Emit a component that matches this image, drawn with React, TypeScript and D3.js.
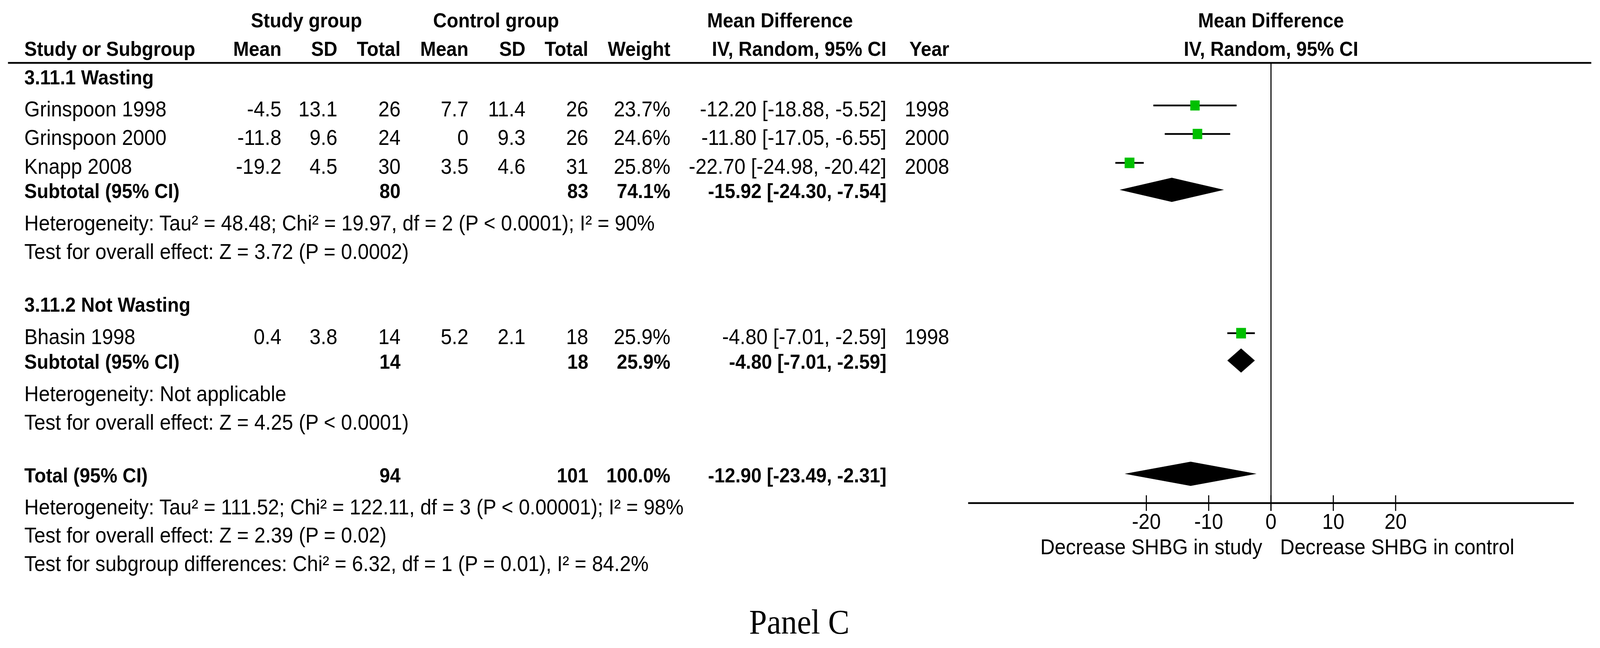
import * as d3 from "d3";

// ---- data ----
const studyNames = ["Grinspoon 1998", "Grinspoon 2000", "Knapp 2008", "Bhasin 1998"];
const studyGroup = [0, 0, 0, 1];
const expMean = [-4.5, -11.8, -19.2, 0.4];
const expSD = [13.1, 9.6, 4.5, 3.8];
const expN = [26, 24, 30, 14];
const ctlMean = [7.7, 0, 3.5, 5.2];
const ctlSD = [11.4, 9.3, 4.6, 2.1];
const ctlN = [26, 26, 31, 18];
const weights = [23.7, 24.6, 25.8, 25.9];
const md = [-12.2, -11.8, -22.7, -4.8];
const ciLow = [-18.88, -17.05, -24.98, -7.01];
const ciHigh = [-5.52, -6.55, -20.42, -2.59];
const years = [1998, 2000, 2008, 1998];

const subgroupNames = ["3.11.1 Wasting", "3.11.2 Not Wasting"];
const subExpN = [80, 14];
const subCtlN = [83, 18];
const subWeight = [74.1, 25.9];
const subMd = [-15.92, -4.8];
const subLow = [-24.3, -7.01];
const subHigh = [-7.54, -2.59];
const subHet = [
  "Heterogeneity: Tau² = 48.48; Chi² = 19.97, df = 2 (P < 0.0001); I² = 90%",
  "Heterogeneity: Not applicable",
];
const subTest = [
  "Test for overall effect: Z = 3.72 (P = 0.0002)",
  "Test for overall effect: Z = 4.25 (P < 0.0001)",
];

const totalExpN = 94;
const totalCtlN = 101;
const totalWeight = 100.0;
const totalMd = -12.9;
const totalLow = -23.49;
const totalHigh = -2.31;
const totalNotes = [
  "Heterogeneity: Tau² = 111.52; Chi² = 122.11, df = 3 (P < 0.00001); I² = 98%",
  "Test for overall effect: Z = 2.39 (P = 0.02)",
  "Test for subgroup differences: Chi² = 6.32, df = 1 (P = 0.01), I² = 84.2%",
];

const tickValues = [-20, -10, 0, 10, 20];
const leftLabel = "Decrease SHBG in study";
const rightLabel = "Decrease SHBG in control";

// ---- layout ----
const W = 4406;
const H = 1659;
const FONT = "'Liberation Sans', Arial, sans-serif";
const FS = 55;
const FSB = 52;

const col = {
  name: 67,
  expMean: 775,
  expSD: 929,
  expN: 1103,
  ctlMean: 1290,
  ctlSD: 1447,
  ctlN: 1620,
  weight: 1846,
  ci: 2441,
  year: 2614,
};

// baselines of each block
const groupHeaderY = [216, 798];
const studyY = [298, 371, 445, 881];
const subtotalY = [507, 944];
const subHetY = [590, 1027];
const subTestY = [663, 1100];
const totalY = 1235;
const totalNoteY = [1317, 1389, 1462];
const axisY = 1288;

const x = d3.scaleLinear().domain([-48.6, 48.6]).range([2666, 4334]);
const box = d3.scaleSqrt().domain([0, 25.9]).range([0, 27]);

const ciText = (m: number, l: number, h: number) =>
  `${m.toFixed(2)} [${l.toFixed(2)}, ${h.toFixed(2)}]`;

function diamond(m: number, l: number, h: number, cy: number) {
  const hh = 31;
  return `M${x(l)},${cy} L${x(m)},${cy - hh} L${x(h)},${cy} L${x(m)},${cy + hh} Z`;
}

export default function App() {
  const R = (props: any) => <text textAnchor="end" {...props} />;
  return (
    <svg
      viewBox={`0 0 ${W} ${H}`}
      preserveAspectRatio="none"
      style={{ position: "fixed", left: 0, top: 0, width: "100vw", height: "100vh", background: "#fff" }}
      fontFamily={FONT}
      fontSize={FS}
      fill="#000"
    >
      {/* header */}
      <g fontWeight="bold" fontSize={FSB}>
        <text x={844} y={70} textAnchor="middle">Study group</text>
        <text x={1366} y={70} textAnchor="middle">Control group</text>
        <text x={2148} y={70} textAnchor="middle">Mean Difference</text>
        <text x={x(0)} y={70} textAnchor="middle">Mean Difference</text>
        <text x={col.name} y={143}>Study or Subgroup</text>
        <R x={col.expMean} y={143}>Mean</R>
        <R x={col.expSD} y={143}>SD</R>
        <R x={col.expN} y={143}>Total</R>
        <R x={col.ctlMean} y={143}>Mean</R>
        <R x={col.ctlSD} y={143}>SD</R>
        <R x={col.ctlN} y={143}>Total</R>
        <R x={col.weight} y={143}>Weight</R>
        <R x={col.ci} y={143}>IV, Random, 95% CI</R>
        <R x={col.year} y={143}>Year</R>
        <text x={x(0)} y={143} textAnchor="middle">IV, Random, 95% CI</text>
      </g>
      <line x1={22} x2={4382} y1={161} y2={161} stroke="#000" strokeWidth={4.5} />

      {/* zero line */}
      <line x1={x(0)} x2={x(0)} y1={161} y2={axisY + 20} stroke="#000" strokeWidth={3} />

      {/* subgroups */}
      {subgroupNames.map((g, gi) => (
        <g key={g}>
          <text x={col.name} y={groupHeaderY[gi]} fontWeight="bold" fontSize={FSB}>{g}</text>
          <g fontWeight="bold" fontSize={FSB}>
            <text x={col.name} y={subtotalY[gi]}>Subtotal (95% CI)</text>
            <R x={col.expN} y={subtotalY[gi]}>{subExpN[gi]}</R>
            <R x={col.ctlN} y={subtotalY[gi]}>{subCtlN[gi]}</R>
            <R x={col.weight} y={subtotalY[gi]}>{subWeight[gi].toFixed(1)}%</R>
            <R x={col.ci} y={subtotalY[gi]}>{ciText(subMd[gi], subLow[gi], subHigh[gi])}</R>
          </g>
          <path d={diamond(subMd[gi], subLow[gi], subHigh[gi], subtotalY[gi] - 21)} fill="#000" />
          <text x={col.name} y={subHetY[gi]}>{subHet[gi]}</text>
          <text x={col.name} y={subTestY[gi]}>{subTest[gi]}</text>
        </g>
      ))}

      {/* studies */}
      {studyNames.map((s, i) => {
        const y = studyY[i];
        const cy = y - 28;
        const b = box(weights[i]);
        return (
          <g key={s} data-group={studyGroup[i]}>
            <text x={col.name} y={y}>{s}</text>
            <R x={col.expMean} y={y}>{expMean[i]}</R>
            <R x={col.expSD} y={y}>{expSD[i]}</R>
            <R x={col.expN} y={y}>{expN[i]}</R>
            <R x={col.ctlMean} y={y}>{ctlMean[i]}</R>
            <R x={col.ctlSD} y={y}>{ctlSD[i]}</R>
            <R x={col.ctlN} y={y}>{ctlN[i]}</R>
            <R x={col.weight} y={y}>{weights[i].toFixed(1)}%</R>
            <R x={col.ci} y={y}>{ciText(md[i], ciLow[i], ciHigh[i])}</R>
            <R x={col.year} y={y}>{years[i]}</R>
            <line x1={x(ciLow[i])} x2={x(ciHigh[i])} y1={cy} y2={cy} stroke="#000" strokeWidth={4.5} />
            <rect x={x(md[i]) - b / 2} y={cy - b / 2} width={b} height={b} fill="#00c000" />
          </g>
        );
      })}

      {/* total */}
      <g fontWeight="bold" fontSize={FSB}>
        <text x={col.name} y={totalY}>Total (95% CI)</text>
        <R x={col.expN} y={totalY}>{totalExpN}</R>
        <R x={col.ctlN} y={totalY}>{totalCtlN}</R>
        <R x={col.weight} y={totalY}>{totalWeight.toFixed(1)}%</R>
        <R x={col.ci} y={totalY}>{ciText(totalMd, totalLow, totalHigh)}</R>
      </g>
      <path d={diamond(totalMd, totalLow, totalHigh, totalY - 22)} fill="#000" />
      {totalNotes.map((t, i) => (
        <text key={i} x={col.name} y={totalNoteY[i]}>{t}</text>
      ))}

      {/* axis */}
      <line x1={x.range()[0]} x2={x.range()[1]} y1={axisY} y2={axisY} stroke="#000" strokeWidth={4.5} />
      {tickValues.map((t) => (
        <g key={t}>
          <line x1={x(t)} x2={x(t)} y1={axisY - 20} y2={axisY + 20} stroke="#000" strokeWidth={3} />
          <text x={x(t)} y={1354} textAnchor="middle">{t < 0 ? `-${Math.abs(t)}` : t}</text>
        </g>
      ))}
      <text x={x(0) - 24} y={1419} textAnchor="end">{leftLabel}</text>
      <text x={x(0) + 25} y={1419}>{rightLabel}</text>

      <text x={2201} y={1622} textAnchor="middle" fontFamily="'Liberation Serif', 'Times New Roman', serif" fontSize={88}>
        Panel C
      </text>
    </svg>
  );
}
